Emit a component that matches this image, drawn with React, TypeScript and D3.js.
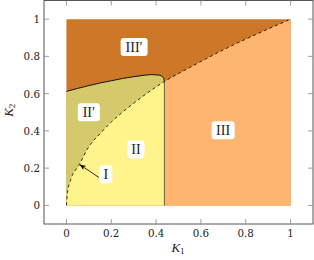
import React from "react";
import * as d3 from "d3";

// dashed boundary K2 vs K1
const dashedK1 = [0, 0.005, 0.02, 0.056, 0.1, 0.15, 0.2, 0.3, 0.437, 0.55, 0.7, 0.85, 1];
const dashedK2 = [0, 0.07, 0.14, 0.216, 0.315, 0.385, 0.447, 0.548, 0.665, 0.74, 0.835, 0.92, 1];

// solid boundary between II' and III'
const solidK1 = [0, 0.05, 0.1, 0.15, 0.2, 0.25, 0.3, 0.35, 0.38, 0.41, 0.425, 0.433, 0.437];
const solidK2 = [0.612, 0.628, 0.643, 0.657, 0.669, 0.681, 0.691, 0.699, 0.702, 0.7, 0.694, 0.684, 0.665];

const splitK1 = 0.437;

const ticks = [0, 0.2, 0.4, 0.6, 0.8, 1];

const regionNames = ["III′", "II′", "II", "III", "I"];
const regionK1 = [0.302, 0.1, 0.31, 0.699, 0.176];
const regionK2 = [0.85, 0.5, 0.3, 0.403, 0.167];
const regionBoxW = [27, 22, 17, 23, 13];

const arrowTip = [0.061, 0.218];

const colors = {
  IIIp: "#cd7729",
  III: "#fdb56f",
  IIp: "#d5ca6b",
  II: "#fff38b",
};

export default function App() {
  const W = 314;
  const H = 260;
  const left = 44;
  const right = 313;
  const top = 0.5;
  const bottom = 224;

  const x = d3.scaleLinear().domain([-0.1, 1.1]).range([left, right]);
  const y = d3.scaleLinear().domain([-0.1, 1.1]).range([bottom, top]);

  const dashed: [number, number][] = dashedK1.map((k, i) => [k, dashedK2[i]]);
  const solid: [number, number][] = solidK1.map((k, i) => [k, solidK2[i]]);

  const line = d3
    .line<[number, number]>()
    .x((d) => x(d[0]))
    .y((d) => y(d[1]))
    .curve(d3.curveMonotoneX);

  const poly = d3
    .line<[number, number]>()
    .x((d) => x(d[0]))
    .y((d) => y(d[1]));

  const dashLeft = dashed.filter((d) => d[0] <= splitK1);
  const dashRight = dashed.filter((d) => d[0] >= splitK1);

  // III' covers the unit square, the other regions go on top
  const pIIIp = poly([[0, 0], [1, 0], [1, 1], [0, 1]]);
  const pIII = "M" + x(splitK1) + "," + y(0) + "L" + x(1) + "," + y(0) + "L" + x(1) + "," + y(1) +
    line(dashRight.slice().reverse())!.replace(/^M/, "L") + "Z";
  const pIIp = "M" + x(0) + "," + y(0) + line(solid)!.replace(/^M/, "L") + "L" + x(splitK1) + "," + y(0) + "Z";
  const pII = line(dashLeft)! + "L" + x(splitK1) + "," + y(0) + "Z";

  const tickFont = "'DejaVu Serif', serif";
  const labelFont = "'Liberation Serif', 'Times New Roman', serif";

  const lblI = 4;
  return (
    <svg width={W} height={H} style={{ position: "absolute", left: 0, top: 0 }}>
      <defs>
        <marker id="arr" viewBox="0 0 10 10" refX="9" refY="5" markerUnits="userSpaceOnUse"
          markerWidth="6.5" markerHeight="6.5" orient="auto">
          <path d="M0,1 L10,5 L0,9 L3,5 Z" fill="#000" />
        </marker>
      </defs>
      <rect width={W} height={H} fill="#fff" />
      <path d={pIIIp!} fill={colors.IIIp} />
      <path d={pIII} fill={colors.III} />
      <path d={pIIp} fill={colors.IIp} />
      <path d={pII} fill={colors.II} />

      <line x1={x(splitK1)} x2={x(splitK1)} y1={y(0)} y2={y(solidK2[solidK2.length - 1])}
        stroke="#4a4a30" strokeOpacity={0.8} strokeWidth={1} />
      <path d={line(solid)!} fill="none" stroke="#000" strokeWidth={0.9} />
      <path d={line(dashed)!} fill="none" stroke="#000" strokeWidth={0.8} strokeDasharray="3,3" />

      {/* frame */}
      <rect x={left} y={top} width={right - left} height={bottom - top} fill="none" stroke="#555" strokeWidth={1} />
      {ticks.map((t) => (
        <g key={"t" + t} stroke="#888" strokeWidth={0.8}>
          <line x1={x(t)} x2={x(t)} y1={bottom} y2={bottom - 5} />
          <line x1={x(t)} x2={x(t)} y1={top} y2={top + 5} />
          <line x1={left} x2={left + 5} y1={y(t)} y2={y(t)} />
          <line x1={right} x2={right - 5} y1={y(t)} y2={y(t)} />
        </g>
      ))}
      {ticks.map((t) => (
        <text key={"xl" + t} x={x(t)} y={bottom + 12.5} textAnchor="middle" fontFamily={tickFont} fontSize={10.3} fill="#222">
          {String(t)}
        </text>
      ))}
      {ticks.map((t) => (
        <text key={"yl" + t} x={left - 4} y={y(t) + 4} textAnchor="end" fontFamily={tickFont} fontSize={10.3} fill="#222">
          {String(t)}
        </text>
      ))}
      <text x={178} y={252} textAnchor="middle" fontFamily={labelFont} fontSize={13} fill="#222">
        <tspan fontStyle="italic">K</tspan>
        <tspan fontSize={9} dy={2}>1</tspan>
      </text>
      <text transform={`translate(13,${(top + bottom) / 2 - 2}) rotate(-90)`} textAnchor="middle" fontFamily={labelFont} fontSize={13} fill="#222">
        <tspan fontStyle="italic">K</tspan>
        <tspan fontSize={9} dy={2}>2</tspan>
      </text>

      {/* arrow for region I */}
      <line x1={x(regionK1[lblI]) - 6.5} y1={y(regionK2[lblI]) + 3.5} x2={x(arrowTip[0])} y2={y(arrowTip[1])}
        stroke="#000" strokeWidth={0.8} markerEnd="url(#arr)" />

      {regionNames.map((n, i) => {
        const w = regionBoxW[i];
        const cx = x(regionK1[i]);
        const cy = y(regionK2[i]);
        return (
          <g key={n}>
            <rect x={cx - w / 2} y={cy - 9} width={w} height={18} rx={3} fill="#fff" />
            <text x={cx} y={cy + 4.5} textAnchor="middle" fontFamily={labelFont} fontSize={14} fill="#222">
              {n}
            </text>
          </g>
        );
      })}
    </svg>
  );
}
